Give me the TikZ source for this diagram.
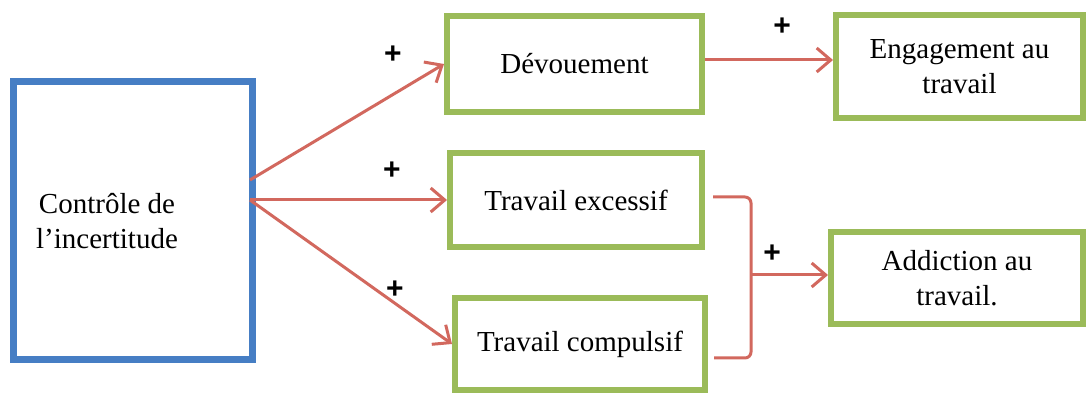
\documentclass[tikz,border=0pt]{standalone}
\usepackage{fontspec}
\setmainfont{Liberation Serif}
\newfontfamily\plusfont{Liberation Sans}
\usetikzlibrary{arrows.meta}
\definecolor{boxblue}{RGB}{70,126,196}
\definecolor{boxgreen}{RGB}{155,187,89}
\definecolor{linkred}{RGB}{210,104,94}
\tikzset{
  bluebox/.style={draw=boxblue, line width=3.5pt, inner sep=0pt},
  greenbox/.style={draw=boxgreen, line width=3pt, align=center,
    font=\fontsize{14.5}{17.5}\selectfont},
  link/.style={draw=linkred, line width=1.5pt},
  arrowlink/.style={link, -{Straight Barb[length=7pt,width=12pt,line width=1.5pt]}},
  plus/.style={font=\plusfont\bfseries\fontsize{15}{15}\selectfont}
}
\begin{document}
\begin{tikzpicture}
      [x=0.5pt, y=-0.5pt]
      \useasboundingbox (0,0) rectangle (1086,394);
      \node[bluebox, minimum width=119.5pt, minimum height=139pt] (ctrl) at (133,220.5) {};
      \node[align=center, font=\fontsize{14.5}{17.5}\selectfont] (ctrltext) at (107,221) {Contrôle de\\l’incertitude};
      \node[greenbox, minimum width=127.5pt, minimum height=48pt] (dev) at (574.5,64) {Dévouement};
      \node[greenbox, minimum width=126pt, minimum height=47pt] (exc) at (576,200) {Travail excessif};
      \node[greenbox, minimum width=125pt, minimum height=46pt] (comp) at (580,344) {Travail compulsif};
      \node[greenbox, minimum width=123.5pt, minimum height=51.5pt] (eng) at (959.5,66.5) {Engagement au\\travail};
      \node[greenbox, minimum width=126pt, minimum height=46pt] (add) at (957,278) {Addiction au\\travail.};
      \coordinate (ctrl-a) at (250,180);
      \coordinate (ctrl-b) at (250,200);
      \coordinate (join) at (751,275);
      \draw[arrowlink] (ctrl-a) -- (dev.west);
      \draw[arrowlink] (ctrl-b) -- (exc.west);
      \draw[arrowlink] (ctrl-b) -- (comp.west);
      \draw[arrowlink] ([yshift=2pt]dev.east) -- ([yshift=2pt]dev.east -| eng.west);
      \draw[link, rounded corners=3pt] ([xshift=4pt,yshift=1.5pt]exc.east) -| (join)
        |- ([xshift=3pt,yshift=-7pt]comp.east);
      \draw[arrowlink] (join) -- (join -| add.west);
      \node[plus] (p-dev) at (393,55) {+};
      \node[plus] (p-exc) at (392,171) {+};
      \node[plus] (p-comp) at (395,290) {+};
      \node[plus] (p-eng) at (782,27) {+};
      \node[plus] (p-add) at (772,254) {+};
\end{tikzpicture}
\end{document}
